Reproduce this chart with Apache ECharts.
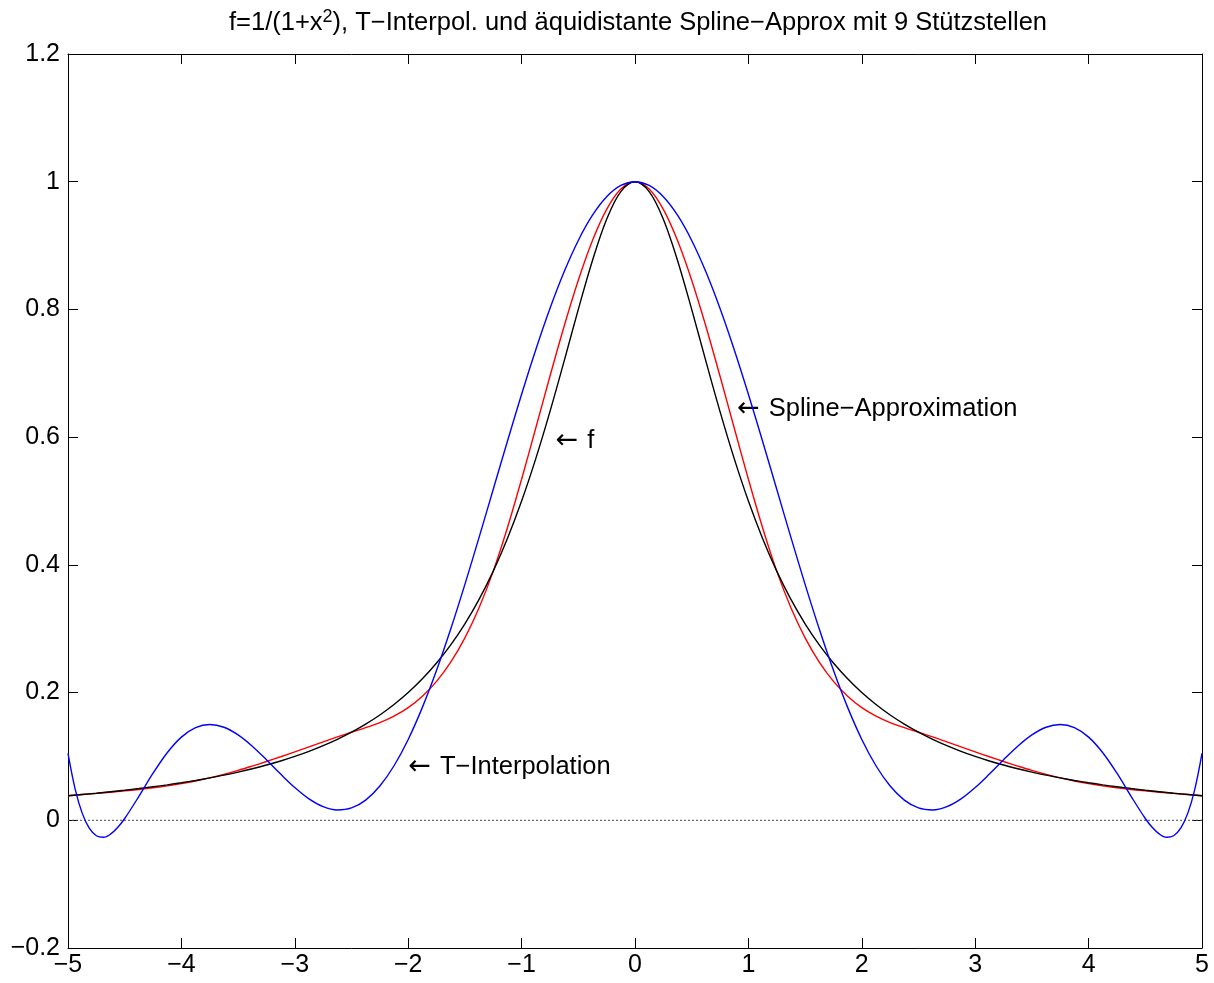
<!DOCTYPE html>
<html>
<head>
<meta charset="utf-8">
<script src="https://cdn.jsdelivr.net/npm/echarts@6/dist/echarts.min.js"></script>
<style>
html,body{margin:0;padding:0;background:#fff;}
#chart{width:1214px;height:983px;}
</style>
</head>
<body>
<div id="chart"></div>
<script>
// sample positions (x) for f and spline
const xs = [-5,-4.875,-4.75,-4.625,-4.5,-4.375,-4.25,-4.125,-4,-3.875,-3.75,-3.625,-3.5,-3.375,-3.25,-3.125,-3,-2.875,-2.75,-2.625,-2.5,-2.375,-2.25,-2.125,-2,-1.875,-1.75,-1.625,-1.5,-1.375,-1.25,-1.125,-1,-0.875,-0.75,-0.625,-0.5,-0.375,-0.25,-0.125,0,
0.125,0.25,0.375,0.5,0.625,0.75,0.875,1,1.125,1.25,1.375,1.5,1.625,1.75,1.875,2,2.125,2.25,2.375,2.5,2.625,2.75,2.875,3,3.125,3.25,3.375,3.5,3.625,3.75,3.875,4,4.125,4.25,4.375,4.5,4.625,4.75,4.875,5];

// f = 1/(1+x^2) (black)
const fVals = [0.0385,0.0404,0.0424,0.0447,0.0471,0.0497,0.0525,0.0555,0.0588,0.0624,0.0664,0.0707,0.0755,0.0807,0.0865,0.0929,0.1,0.1079,0.1168,0.1267,0.1379,0.1506,0.1649,0.1813,0.2,0.2215,0.2462,0.2747,0.3077,0.3459,0.3902,0.4414,0.5,0.5664,0.64,0.7191,0.8,0.8767,0.9412,0.9846,1,
0.9846,0.9412,0.8767,0.8,0.7191,0.64,0.5664,0.5,0.4414,0.3902,0.3459,0.3077,0.2747,0.2462,0.2215,0.2,0.1813,0.1649,0.1506,0.1379,0.1267,0.1168,0.1079,0.1,0.0929,0.0865,0.0807,0.0755,0.0707,0.0664,0.0624,0.0588,0.0555,0.0525,0.0497,0.0471,0.0447,0.0424,0.0404,0.0385];

// Spline-Approximation (red)
const splineVals = [0.0385,0.0403,0.0421,0.0440,0.0460,0.0483,0.0509,0.0539,0.0575,0.0616,0.0664,0.0719,0.0781,0.0849,0.0920,0.0995,0.1072,0.1150,0.1228,0.1305,0.1379,0.1450,0.1530,0.1631,0.1764,0.1943,0.2176,0.2477,0.2857,0.3328,0.3902,0.4582,0.5341,0.6144,0.6954,0.7737,0.8457,0.9079,0.9567,0.9886,1,
0.9886,0.9567,0.9079,0.8457,0.7737,0.6954,0.6144,0.5341,0.4582,0.3902,0.3328,0.2857,0.2477,0.2176,0.1943,0.1764,0.1631,0.1530,0.1450,0.1379,0.1305,0.1228,0.1150,0.1072,0.0995,0.0920,0.0849,0.0781,0.0719,0.0664,0.0616,0.0575,0.0539,0.0509,0.0483,0.0460,0.0440,0.0421,0.0403,0.0385];

// sample positions for T-Interpolation (denser near the ends)
const xsT = [-5,-4.9375,-4.875,-4.8125,-4.75,-4.6875,-4.625,-4.5625,-4.5,-4.375,-4.25,-4.125,-4,-3.875,-3.75,-3.625,-3.5,-3.375,-3.25,-3.125,-3,-2.875,-2.75,-2.625,-2.5,-2.375,-2.25,-2.125,-2,-1.875,-1.75,-1.625,-1.5,-1.375,-1.25,-1.125,-1,-0.875,-0.75,-0.625,-0.5,-0.375,-0.25,-0.125,0,
0.125,0.25,0.375,0.5,0.625,0.75,0.875,1,1.125,1.25,1.375,1.5,1.625,1.75,1.875,2,2.125,2.25,2.375,2.5,2.625,2.75,2.875,3,3.125,3.25,3.375,3.5,3.625,3.75,3.875,4,4.125,4.25,4.375,4.5,4.5625,4.625,4.6875,4.75,4.8125,4.875,4.9375,5];

// T-Interpolation (blue)
const tVals = [0.1046,0.0492,0.0112,-0.0124,-0.0242,-0.0266,-0.0217,-0.0114,0.0028,0.0374,0.0737,0.1058,0.1302,0.1450,0.1500,0.1457,0.1337,0.1160,0.0947,0.0724,0.0513,0.0336,0.0214,0.0162,0.0193,0.0316,0.0536,0.0854,0.1266,0.1768,0.2348,0.2995,0.3695,0.4430,0.5183,0.5936,0.6671,0.7369,0.8014,0.8589,0.9080,0.9475,0.9764,0.9941,1,
0.9941,0.9764,0.9475,0.9080,0.8589,0.8014,0.7369,0.6671,0.5936,0.5183,0.4430,0.3695,0.2995,0.2348,0.1768,0.1266,0.0854,0.0536,0.0316,0.0193,0.0162,0.0214,0.0336,0.0513,0.0724,0.0947,0.1160,0.1337,0.1457,0.1500,0.1450,0.1302,0.1058,0.0737,0.0374,0.0028,-0.0114,-0.0217,-0.0266,-0.0242,-0.0124,0.0112,0.0492,0.1046];

// zero reference line
const zeroLineX = [-5, 5];
const zeroLineY = [0, 0];

// text annotations
const annX = [-0.7, 0.9, -2.0];
const annY = [0.6, 0.65, 0.09];
const annText = ['f', 'Spline\u2212Approximation', 'T\u2212Interpolation'];

// axis ranges
const xMin = -5, xMax = 5, xStep = 1;
const yMin = -0.2, yMax = 1.2, yStep = 0.2;

const FONT = '"Liberation Sans", Arial, Helvetica, sans-serif';
const FS = 25;
const FS_TEXT = 25.5;

const chart = echarts.init(document.getElementById('chart'), null, {renderer: 'canvas'});

const pair = (xa, ya) => xa.map((x, i) => [x, ya[i]]);
const minusFmt = v => String(Math.round(v * 10) / 10).replace('-', '\u2212');

const axisCommon = {
  type: 'value',
  splitLine: {show: false},
  axisLine: {show: true, onZero: false, lineStyle: {color: '#000', width: 1}},
  axisTick: {show: true, inside: true, length: 10, lineStyle: {color: '#000', width: 1}}
};

const option = {
  animation: false,
  backgroundColor: '#fff',
  grid: {left: 68, right: 12, top: 54, bottom: 35, containLabel: false},
  graphic: [{
    type: 'text',
    x: 638, y: 23,
    style: {
      text: '{a|f=1/(1+x}{s|2}{a|), T\u2212Interpol. und \u00e4quidistante Spline\u2212Approx mit 9 St\u00fctzstellen}',
      align: 'center',
      verticalAlign: 'middle',
      rich: {
        a: {fontFamily: FONT, fontSize: FS_TEXT, fill: '#000', lineHeight: 30},
        s: {fontFamily: FONT, fontSize: 18, fill: '#000', verticalAlign: 'top', padding: [0, 0, 15, 0], lineHeight: 30}
      }
    }
  }],
  xAxis: [
    Object.assign({}, axisCommon, {
      position: 'bottom', min: xMin, max: xMax, interval: xStep,
      axisLabel: {show: true, formatter: minusFmt, fontFamily: FONT, fontSize: FS, color: '#000', margin: 5}
    }),
    Object.assign({}, axisCommon, {
      position: 'top', min: xMin, max: xMax, interval: xStep,
      axisLabel: {show: false}
    })
  ],
  yAxis: [
    Object.assign({}, axisCommon, {
      position: 'left', min: yMin, max: yMax, interval: yStep,
      axisLabel: {show: true, formatter: minusFmt, fontFamily: FONT, fontSize: FS, color: '#000', margin: 8}
    }),
    Object.assign({}, axisCommon, {
      position: 'right', min: yMin, max: yMax, interval: yStep,
      axisLabel: {show: false}
    })
  ],
  series: [
    {
      name: 'zero', type: 'line', xAxisIndex: 0, yAxisIndex: 0,
      data: pair(zeroLineX, zeroLineY), symbol: 'none', silent: true,
      lineStyle: {color: '#4a4a4a', width: 1, type: [2, 2]}
    },
    {
      name: 'Spline', type: 'line', xAxisIndex: 0, yAxisIndex: 0,
      data: pair(xs, splineVals), symbol: 'none', smooth: 0.35,
      lineStyle: {color: '#ff0000', width: 1.4}
    },
    {
      name: 'f', type: 'line', xAxisIndex: 0, yAxisIndex: 0,
      data: pair(xs, fVals), symbol: 'none', smooth: 0.35,
      lineStyle: {color: '#000000', width: 1.4}
    },
    {
      name: 'T', type: 'line', xAxisIndex: 0, yAxisIndex: 0,
      data: pair(xsT, tVals), symbol: 'none', smooth: 0.35,
      lineStyle: {color: '#0000ff', width: 1.4}
    },
    {
      name: 'labels', type: 'scatter', xAxisIndex: 0, yAxisIndex: 0,
      symbolSize: 0, silent: true,
      itemStyle: {opacity: 1},
      data: annX.map((x, i) => ({value: [x, annY[i]], name: annText[i]})),
      label: {
        show: true, position: 'right', distance: 0, opacity: 1, offset: [0, 4],
        formatter: p => '{ar|\u2190}{t| ' + p.name + '}',
        rich: {
          ar: {fontFamily: '"DejaVu Sans"', fontSize: 27, color: '#000', padding: [0, 2, 0, 0]},
          t: {fontFamily: FONT, fontSize: FS_TEXT, color: '#000'}
        },
        color: '#000', align: 'left', verticalAlign: 'middle'
      }
    }
  ]
};

chart.setOption(option);
</script>
</body>
</html>
